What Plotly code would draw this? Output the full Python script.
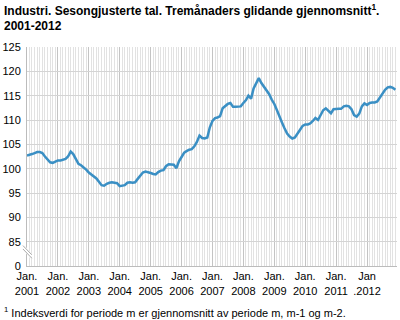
import plotly.graph_objects as go
import pandas as pd

months = pd.date_range("2001-01-01", periods=144, freq="MS")
values = [
    102.7, 102.8, 103.0, 103.2, 103.4, 103.4, 103.2, 102.5, 101.8, 101.3, 101.2, 101.5,
    101.7, 101.7, 101.8, 102.0, 102.5, 103.5, 103.0, 101.9, 101.0, 100.7, 100.3, 99.8,
    99.2, 98.8, 98.5, 98.0, 97.3, 96.6, 96.5, 96.9, 97.1, 97.2, 97.1, 97.0,
    96.4, 96.5, 96.6, 97.1, 97.2, 97.1, 97.2, 97.9, 98.6, 99.2, 99.4, 99.3,
    99.1, 98.9, 98.8, 99.3, 99.6, 99.7, 100.5, 100.9, 100.9, 100.8, 100.1, 101.5,
    102.4, 103.3, 103.6, 103.9, 104.0, 104.6, 105.5, 106.8, 106.3, 106.2, 106.4, 108.5,
    109.8, 110.4, 110.5, 110.8, 112.4, 112.9, 113.3, 113.5, 112.7, 112.7, 112.8, 112.8,
    113.5, 114.1, 115.0, 114.4, 116.5, 117.5, 118.6, 117.6, 116.8, 116.0, 115.3, 114.2,
    113.3, 112.0, 110.6, 109.5, 108.3, 107.2, 106.6, 106.2, 106.4, 107.3, 108.0, 108.8,
    109.1, 109.1, 109.3, 109.8, 110.4, 110.0, 111.0, 112.0, 112.4, 112.0, 111.4, 112.2,
    112.3, 112.3, 112.3, 112.8, 112.9, 112.8, 112.2, 111.0, 110.7, 111.3, 112.8, 113.4,
    113.1, 113.5, 113.6, 113.6, 113.8, 114.6, 115.4, 116.2, 116.7, 116.8, 116.6, 116.2,
]
year_ticks = pd.date_range("2001-01-01", periods=12, freq="12MS")
year_labels = ["Jan.<br>2001", "Jan.<br>2002", "Jan.<br>2003", "Jan.<br>2004", "Jan.<br>2005",
               "Jan.<br>2006", "Jan.<br>2007", "Jan.<br>2008", "Jan.<br>2009", "Jan.<br>2010",
               "Jan.<br>2011", "Jan<br>.2012"]
y_ticks = [80, 85, 90, 95, 100, 105, 110, 115, 120, 125]
y_labels = ["0", "85", "90", "95", "100", "105", "110", "115", "120", "125"]

FONT = "Liberation Sans, Arial, sans-serif"

fig = go.Figure()
fig.add_trace(go.Scatter(
    x=months, y=values, mode="lines",
    line=dict(color="#3a8fc4", width=2.5),
    hoverinfo="skip", showlegend=False,
))

fig.update_layout(
    width=400, height=320,
    margin=dict(l=27, r=3, t=47, b=54),
    paper_bgcolor="white", plot_bgcolor="white",
    font=dict(family=FONT, size=11, color="#000000"),
    xaxis=dict(
        type="date",
        range=["2001-01-01", "2012-12-20"],
        tickvals=list(year_ticks), ticktext=year_labels,
        showgrid=True, gridcolor="#c4c4c4", gridwidth=1,
        minor=dict(dtick="M1", tick0="2001-01-01", showgrid=True, gridcolor="#e2e2e2", gridwidth=1),
        showline=True, linecolor="#bcbcbc", linewidth=1,
        ticks="", tickfont=dict(family=FONT, size=11),
        zeroline=False,
    ),
    yaxis=dict(
        range=[80, 125],
        tickvals=y_ticks, ticktext=y_labels,
        showgrid=True, gridcolor="#d4d4d4", gridwidth=1,
        showline=True, linecolor="#bcbcbc", linewidth=1,
        ticks="", tickfont=dict(family=FONT, size=11),
        zeroline=False, ticklabelstandoff=3,
    ),
    shapes=[
        dict(type="line", xref="paper", yref="y", x0=-0.01, x1=0.012, y0=83.9, y1=81.9,
             line=dict(color="white", width=4), layer="above"),
        dict(type="line", xref="paper", yref="y", x0=-0.011, x1=0.013, y0=84.2, y1=82.3,
             line=dict(color="#aaaaaa", width=1), layer="above"),
        dict(type="line", xref="paper", yref="y", x0=-0.011, x1=0.013, y0=83.5, y1=81.6,
             line=dict(color="#aaaaaa", width=1), layer="above"),
    ],
    annotations=[
        dict(text="<b>Industri. Sesongjusterte tal. Tremånaders glidande gjennomsnitt<sup>1</sup>.</b>",
             xref="paper", yref="paper", x=-0.068, y=1.169, xanchor="left", yanchor="middle",
             showarrow=False, font=dict(family=FONT, size=12, color="#000000")),
        dict(text="<b>2001-2012</b>",
             xref="paper", yref="paper", x=-0.068, y=1.096, xanchor="left", yanchor="middle",
             showarrow=False, font=dict(family=FONT, size=12, color="#000000")),
        dict(text="<sup>1</sup> Indeksverdi for periode m er gjennomsnitt av periode m, m-1 og m-2.",
             xref="paper", yref="paper", x=-0.068, y=-0.21, xanchor="left", yanchor="middle",
             showarrow=False, font=dict(family=FONT, size=11, color="#000000")),
    ],
)

fig.write_html("out.html", config={"displayModeBar": False},
               post_script="document.body.style.margin='0';document.body.style.overflow='hidden';")
